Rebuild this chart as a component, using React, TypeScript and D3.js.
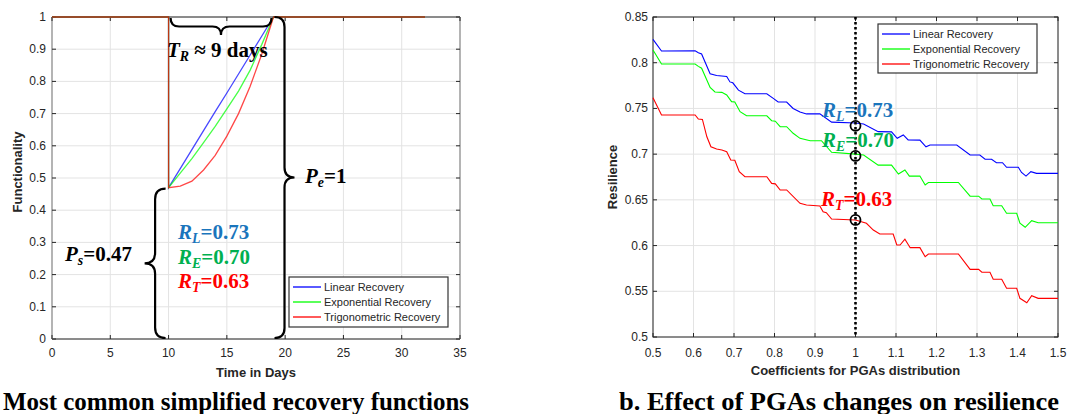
import * as d3 from "d3";

const W = 1067;
const H = 414;

// ---- panel a: recovery functions ----
const recoveryDays = [0, 10, 10, 11, 12, 13, 14, 15, 16, 17, 18, 19, 32];
const linearRecovery = [1, 1, 0.47, 0.529, 0.588, 0.647, 0.706, 0.764, 0.823, 0.882, 0.941, 1, 1];
const expRecovery = [1, 1, 0.47, 0.515, 0.56, 0.61, 0.66, 0.715, 0.77, 0.835, 0.915, 1, 1];
const trigRecovery = [1, 1, 0.47, 0.475, 0.49, 0.525, 0.57, 0.63, 0.7, 0.785, 0.885, 1, 1];
const dayTicks = [0, 5, 10, 15, 20, 25, 30, 35];
const funcTicks = [0, 0.1, 0.2, 0.3, 0.4, 0.5, 0.6, 0.7, 0.8, 0.9, 1];

const seriesNames = ["Linear Recovery", "Exponential Recovery", "Trigonometric Recovery"];
const seriesColors = ["#0000ff", "#00ff00", "#ff0000"];
const labelColors = ["#1a75bc", "#00b050", "#ff0000"];
const labelSubs = ["L", "E", "T"];
const labelValues = ["0.73", "0.70", "0.63"];

const disruptionDay = 10;
const recoveredDay = 19;
const residual = 0.47;

// ---- panel b: resilience vs PGA coefficient ----
const linearRes: [number, number][] = [
  [0.5, 0.8256], [0.521, 0.8128], [0.604, 0.813], [0.612, 0.811], [0.62, 0.8095], [0.641, 0.788],
  [0.657, 0.786], [0.682, 0.785], [0.69, 0.779], [0.697, 0.778], [0.711, 0.77], [0.727, 0.766],
  [0.781, 0.766], [0.797, 0.761], [0.809, 0.757], [0.83, 0.757], [0.846, 0.75], [0.863, 0.746],
  [0.879, 0.744], [0.912, 0.744], [0.941, 0.735], [1.0, 0.734], [1.02, 0.733], [1.056, 0.7246],
  [1.089, 0.7244], [1.103, 0.7173], [1.118, 0.721], [1.13, 0.7155], [1.159, 0.7153], [1.174, 0.708],
  [1.184, 0.71], [1.25, 0.71], [1.283, 0.699], [1.307, 0.699], [1.32, 0.6944], [1.336, 0.6944],
  [1.348, 0.6906], [1.363, 0.6906], [1.373, 0.6856], [1.402, 0.6856], [1.41, 0.68], [1.421, 0.676],
  [1.433, 0.6808], [1.447, 0.679], [1.5, 0.679],
];
const expRes: [number, number][] = [
  [0.5, 0.814], [0.521, 0.7986], [0.604, 0.7986], [0.612, 0.796], [0.62, 0.794], [0.641, 0.773],
  [0.653, 0.768], [0.67, 0.7676], [0.682, 0.7647], [0.694, 0.7574], [0.702, 0.757], [0.715, 0.7464],
  [0.731, 0.742], [0.781, 0.742], [0.793, 0.7366], [0.802, 0.736], [0.814, 0.73], [0.83, 0.73],
  [0.846, 0.7228], [0.863, 0.7173], [0.888, 0.7147], [0.916, 0.7147], [0.941, 0.702], [1.0, 0.7],
  [1.02, 0.699], [1.056, 0.688], [1.089, 0.688], [1.106, 0.6783], [1.122, 0.6827], [1.133, 0.676],
  [1.159, 0.676], [1.172, 0.6663], [1.18, 0.669], [1.254, 0.669], [1.283, 0.654], [1.304, 0.654],
  [1.312, 0.651], [1.332, 0.651], [1.34, 0.6436], [1.361, 0.6436], [1.373, 0.6353], [1.398, 0.6353],
  [1.406, 0.6244], [1.419, 0.62], [1.435, 0.6272], [1.451, 0.625], [1.5, 0.625],
];
const trigRes: [number, number][] = [
  [0.5, 0.7617], [0.521, 0.7428], [0.604, 0.7428], [0.612, 0.7384], [0.622, 0.738], [0.633, 0.719],
  [0.643, 0.7081], [0.657, 0.7056], [0.67, 0.7045], [0.682, 0.7027], [0.692, 0.6936], [0.702, 0.6934],
  [0.713, 0.6808], [0.727, 0.6753], [0.781, 0.6753], [0.793, 0.668], [0.802, 0.6675], [0.814, 0.6608],
  [0.83, 0.6608], [0.863, 0.6462], [0.879, 0.6444], [0.912, 0.6433], [0.92, 0.637], [0.928, 0.636],
  [0.941, 0.629], [1.0, 0.628], [1.027, 0.6244], [1.044, 0.617], [1.06, 0.6127], [1.093, 0.6127],
  [1.102, 0.6006], [1.11, 0.6006], [1.122, 0.6069], [1.135, 0.5977], [1.159, 0.5977], [1.172, 0.5878],
  [1.18, 0.5908], [1.254, 0.5908], [1.283, 0.574], [1.304, 0.574], [1.312, 0.5708], [1.332, 0.5708],
  [1.34, 0.5631], [1.361, 0.5631], [1.373, 0.5533], [1.398, 0.5533], [1.406, 0.5423], [1.423, 0.5375],
  [1.435, 0.5452], [1.451, 0.5423], [1.5, 0.5423],
];
const baseCoef = 1.0;
const baseResilience = [0.731, 0.698, 0.628];
const coefTicks = [0.5, 0.6, 0.7, 0.8, 0.9, 1.0, 1.1, 1.2, 1.3, 1.4, 1.5];
const resTicks = [0.5, 0.55, 0.6, 0.65, 0.7, 0.75, 0.8, 0.85];

const sans = "'Liberation Sans', Arial, Helvetica, sans-serif";
const serif = "'Liberation Serif', 'Times New Roman', serif";
const fmt = (v: number) => String(+v.toFixed(2));

// curly brace in local (u along, v across) coords mapped to screen
const brace = (L: number, h: number, map: (u: number, v: number) => [number, number]) => {
  const r = h / 2;
  const p = (u: number, v: number) => map(u, v).map((n) => n.toFixed(1)).join(",");
  return `M${p(0, 0)} Q${p(0, r)} ${p(r, r)} L${p(L / 2 - r, r)} Q${p(L / 2, r)} ${p(L / 2, h)} ` +
    `Q${p(L / 2, r)} ${p(L / 2 + r, r)} L${p(L - r, r)} Q${p(L, r)} ${p(L, 0)}`;
};

function SubLabel({ x, y, main, sub, rest, color, size = 21 }: any) {
  return (
    <text x={x} y={y} fontFamily={serif} fontWeight="bold" fontSize={size} fill={color}>
      <tspan fontStyle="italic">{main}</tspan>
      <tspan fontStyle="italic" fontSize={size * 0.66} dy={4}>{sub}</tspan>
      <tspan dy={-4}>{rest}</tspan>
    </text>
  );
}

function Legend({ x, y, w, h }: any) {
  return (
    <g>
      <rect x={x} y={y} width={w} height={h} fill="#fff" stroke="#333" strokeWidth={1.2} />
      {seriesNames.map((n, i) => (
        <g key={n}>
          <line x1={x + 4} x2={x + 32} y1={y + 10 + i * 15} y2={y + 10 + i * 15} stroke={seriesColors[i]} strokeWidth={1.3} />
          <text x={x + 35} y={y + 14 + i * 15} fontFamily={sans} fontSize={11} fill="#262626">{n}</text>
        </g>
      ))}
    </g>
  );
}

export default function App() {
  // panel a scales
  const xL = d3.scaleLinear().domain([0, 35]).range([52, 460]);
  const yL = d3.scaleLinear().domain([0, 1]).range([339, 17]);
  // panel b scales
  const xR = d3.scaleLinear().domain([0.5, 1.5]).range([653, 1058]);
  const yR = d3.scaleLinear().domain([0.5, 0.85]).range([337, 17]);

  const lineL = d3.line<number>().x((_, i) => xL(recoveryDays[i])).y((d) => yL(d));
  const lineR = d3.line<[number, number]>().x((d) => xR(d[0])).y((d) => yR(d[1]));

  const [l0, l1] = xL.range();
  const [b0, t0] = yL.range();
  const [r0, r1] = xR.range();
  const [rb, rt] = yR.range();
  const tk = 4;

  const topBraceX1 = xL(disruptionDay) + 2;
  const topBraceX2 = xL(recoveredDay) - 2;
  const rightBraceY1 = yL(1);
  const rightBraceY2 = yL(0) - 1;
  const leftBraceY1 = yL(residual) + 1;
  const leftBraceY2 = yL(0) - 1;

  return (
    <svg width={W} height={H} style={{ position: "absolute", left: 0, top: 0, background: "#fff" }}>
      {/* ===== panel a ===== */}
      <g>
        {dayTicks.map((t) => (
          <line key={"gx" + t} x1={xL(t)} x2={xL(t)} y1={b0} y2={t0} stroke="#e3e3e3" />
        ))}
        {funcTicks.map((t) => (
          <line key={"gy" + t} x1={l0} x2={l1} y1={yL(t)} y2={yL(t)} stroke="#e3e3e3" />
        ))}
        {/* box */}
        <line x1={l0} x2={l1} y1={b0} y2={b0} stroke="#262626" />
        <line x1={l0} x2={l1} y1={t0} y2={t0} stroke="#262626" />
        <line x1={l0} x2={l0} y1={b0} y2={t0} stroke="#b4b4b4" strokeWidth={2} />
        <line x1={l1} x2={l1} y1={b0} y2={t0} stroke="#b4b4b4" strokeWidth={2} />
        {dayTicks.map((t) => (
          <g key={"tx" + t}>
            <line x1={xL(t)} x2={xL(t)} y1={b0} y2={b0 - tk} stroke="#262626" />
            <line x1={xL(t)} x2={xL(t)} y1={t0} y2={t0 + tk} stroke="#262626" />
            <text x={xL(t)} y={357} textAnchor="middle" fontFamily={sans} fontSize={12} fill="#262626">{fmt(t)}</text>
          </g>
        ))}
        {funcTicks.map((t) => (
          <g key={"ty" + t}>
            <line x1={l0} x2={l0 + tk} y1={yL(t)} y2={yL(t)} stroke="#262626" />
            <line x1={l1} x2={l1 - tk} y1={yL(t)} y2={yL(t)} stroke="#262626" />
            <text x={46} y={yL(t) + 4} textAnchor="end" fontFamily={sans} fontSize={12} fill="#262626">{fmt(t)}</text>
          </g>
        ))}
        <text x={(l0 + l1) / 2} y={377} textAnchor="middle" fontFamily={sans} fontWeight="bold" fontSize={13} fill="#262626">Time in Days</text>
        <text transform={`translate(22,${(b0 + t0) / 2 - 6}) rotate(-90)`} textAnchor="middle" fontFamily={sans} fontWeight="bold" fontSize={13} fill="#262626">Functionality</text>

        {[linearRecovery, expRecovery, trigRecovery].map((s, i) => (
          <path key={"s" + i} d={lineL(s) || ""} fill="none" stroke={seriesColors[i]} strokeWidth={1.3} strokeOpacity={0.72} />
        ))}

        {/* braces */}
        <path d={brace(topBraceX2 - topBraceX1, 17, (u, v) => [topBraceX1 + u, t0 + 1 + v])} fill="none" stroke="#000" strokeWidth={2.2} />
        <path d={brace(rightBraceY2 - rightBraceY1, 20, (u, v) => [xL(recoveredDay) + 1 + v, rightBraceY1 + u])} fill="none" stroke="#000" strokeWidth={2.2} />
        <path d={brace(leftBraceY2 - leftBraceY1, 21, (u, v) => [xL(disruptionDay) - 3 - v, leftBraceY1 + u])} fill="none" stroke="#000" strokeWidth={2.2} />

        <SubLabel x={167} y={57} main="T" sub="R" rest=" ≈ 9 days" color="#000" />
        <SubLabel x={305} y={183} main="P" sub="e" rest="=1" color="#000" />
        <SubLabel x={65} y={261} main="P" sub="s" rest="=0.47" color="#000" />
        {labelSubs.map((s, i) => (
          <SubLabel key={"la" + s} x={178} y={239 + i * 24.5} main="R" sub={s} rest={"=" + labelValues[i]} color={labelColors[i]} />
        ))}

        <Legend x={289} y={277} w={159} h={50} />

        <text x={3} y={410} fontFamily={serif} fontWeight="bold" fontSize={25} textLength={466} lengthAdjust="spacingAndGlyphs" fill="#000">Most common simplified recovery functions</text>
      </g>

      {/* ===== panel b ===== */}
      <g>
        {coefTicks.map((t) => (
          <line key={"gx" + t} x1={xR(t)} x2={xR(t)} y1={rb} y2={rt} stroke="#e3e3e3" />
        ))}
        {resTicks.map((t) => (
          <line key={"gy" + t} x1={r0} x2={r1} y1={yR(t)} y2={yR(t)} stroke="#e3e3e3" />
        ))}
        <rect x={r0} y={rt} width={r1 - r0} height={rb - rt} fill="none" stroke="#262626" />
        {coefTicks.map((t) => (
          <g key={"tx" + t}>
            <line x1={xR(t)} x2={xR(t)} y1={rb} y2={rb - tk} stroke="#262626" />
            <line x1={xR(t)} x2={xR(t)} y1={rt} y2={rt + tk} stroke="#262626" />
            <text x={xR(t)} y={357} textAnchor="middle" fontFamily={sans} fontSize={12} fill="#262626">{fmt(t)}</text>
          </g>
        ))}
        {resTicks.map((t) => (
          <g key={"ty" + t}>
            <line x1={r0} x2={r0 + tk} y1={yR(t)} y2={yR(t)} stroke="#262626" />
            <line x1={r1} x2={r1 - tk} y1={yR(t)} y2={yR(t)} stroke="#262626" />
            <text x={648} y={yR(t) + 4} textAnchor="end" fontFamily={sans} fontSize={12} fill="#262626">{fmt(t)}</text>
          </g>
        ))}
        <text x={(r0 + r1) / 2} y={375} textAnchor="middle" fontFamily={sans} fontWeight="bold" fontSize={13} fill="#262626">Coefficients for PGAs distribution</text>
        <text transform={`translate(617,${(rb + rt) / 2}) rotate(-90)`} textAnchor="middle" fontFamily={sans} fontWeight="bold" fontSize={13} fill="#262626">Resilience</text>

        {[linearRes, expRes, trigRes].map((s, i) => (
          <path key={"r" + i} d={lineR(s) || ""} fill="none" stroke={seriesColors[i]} strokeWidth={1.1} />
        ))}

        <line x1={xR(baseCoef)} x2={xR(baseCoef)} y1={rt} y2={rb} stroke="#000" strokeWidth={2.6} strokeDasharray="2.5 2.5" />
        {baseResilience.map((v, i) => (
          <circle key={"c" + i} cx={xR(baseCoef)} cy={yR(v)} r={5} fill="none" stroke="#000" strokeWidth={1.8} />
        ))}

        <SubLabel x={822} y={117} main="R" sub="L" rest={"=" + labelValues[0]} color={labelColors[0]} />
        <SubLabel x={822} y={147} main="R" sub="E" rest={"=" + labelValues[1]} color={labelColors[1]} />
        <SubLabel x={821} y={206} main="R" sub="T" rest={"=" + labelValues[2]} color={labelColors[2]} />

        <Legend x={878} y={24} w={159} h={49} />

        <text x={619} y={410} fontFamily={serif} fontWeight="bold" fontSize={25} textLength={440} lengthAdjust="spacingAndGlyphs" fill="#000">b. Effect of PGAs changes on resilience</text>
      </g>
    </svg>
  );
}
